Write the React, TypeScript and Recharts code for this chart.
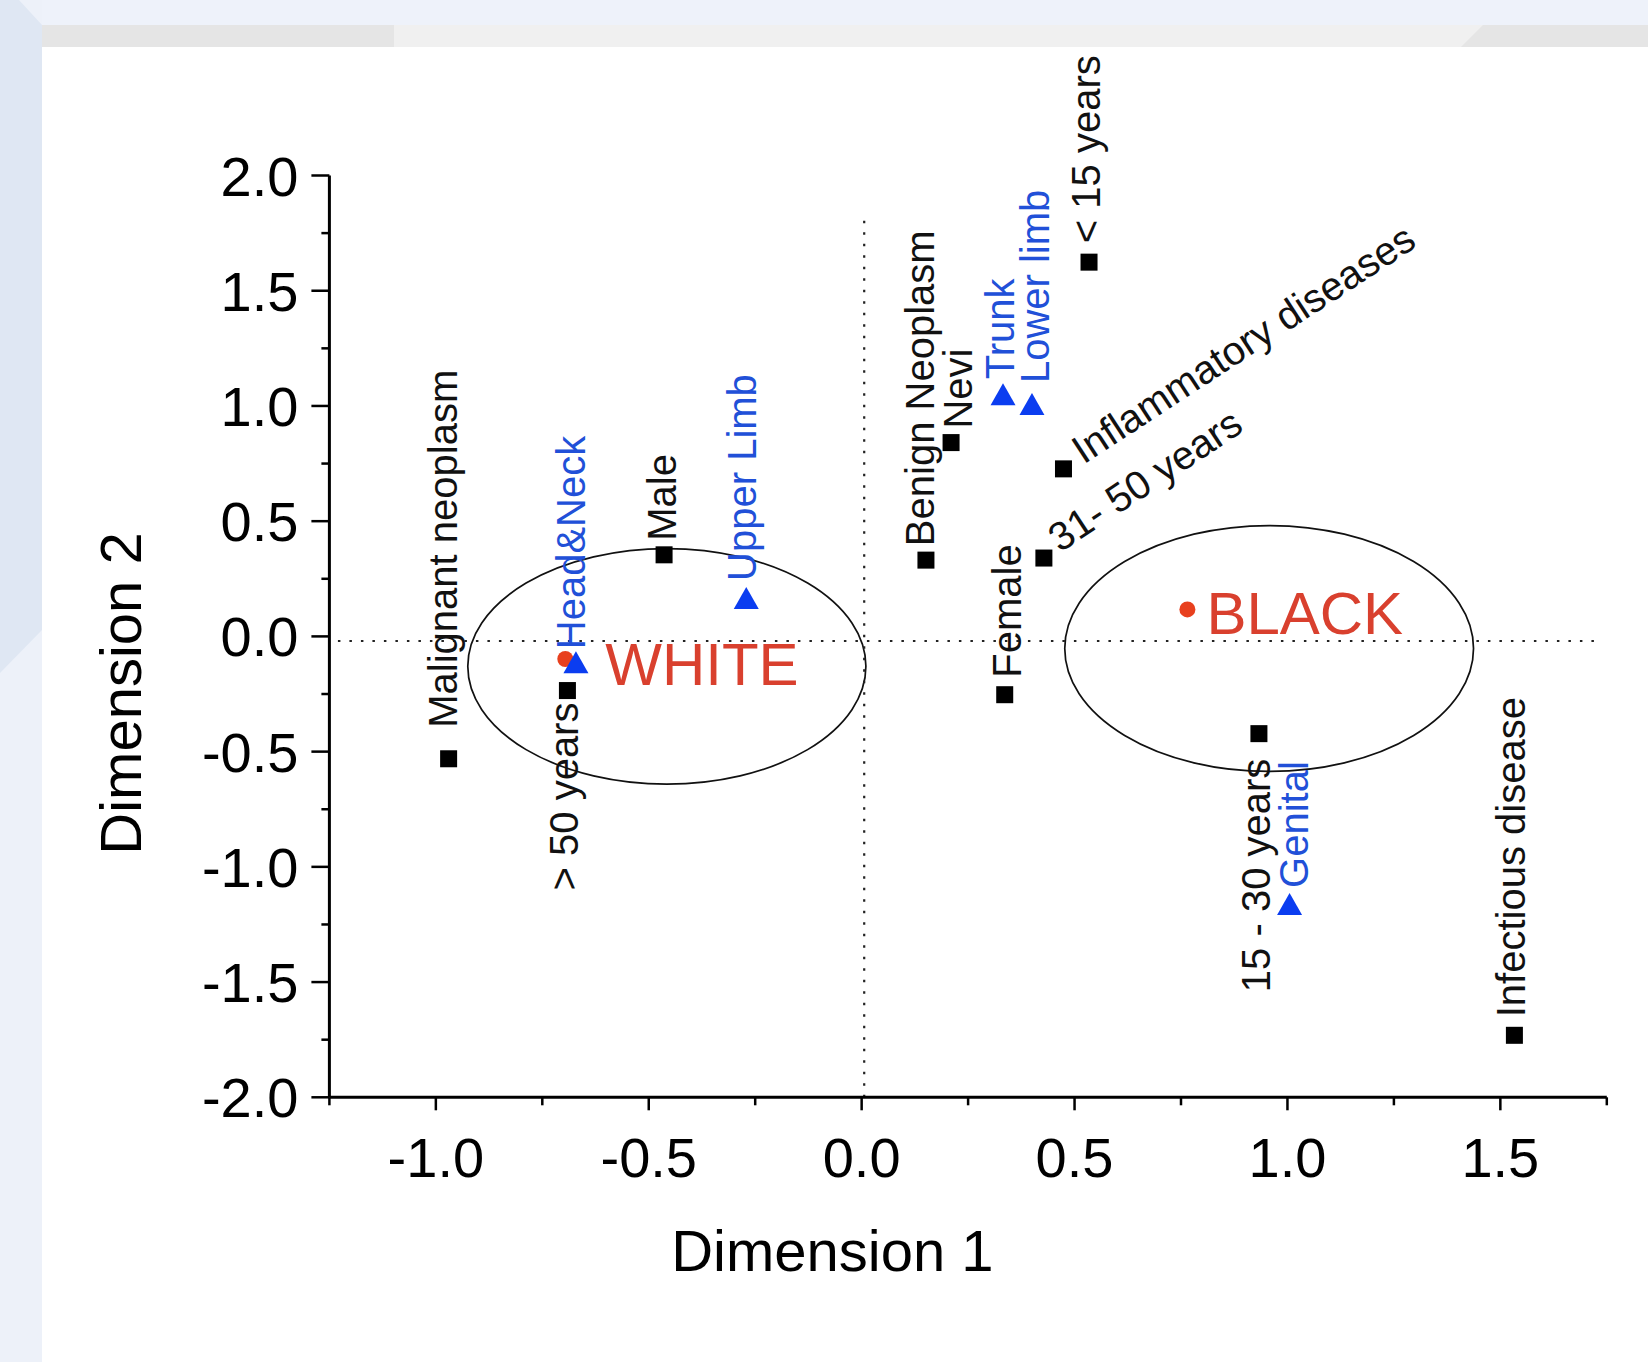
import React from 'react';
import { ScatterChart, Scatter, XAxis, YAxis, ReferenceLine, ReferenceArea } from 'recharts';

const FONT = '"Liberation Sans", Arial, Helvetica, sans-serif';

// black squares: diagnosis, sex and age group
const squareNames = [
  'Malignant neoplasm', '> 50 years', 'Male', 'Benign Neoplasm', 'Nevi', 'Female',
  '31- 50 years', 'Inflammatory diseases', '< 15 years', '15 - 30 years', 'Infectious disease',
];
const squareX = [-0.97, -0.691, -0.464, 0.151, 0.21, 0.336, 0.428, 0.474, 0.534, 0.933, 1.533];
const squareY = [-0.531, -0.235, 0.354, 0.331, 0.841, -0.253, 0.34, 0.727, 1.624, -0.422, -1.731];

// blue triangles: body site
const siteNames = ['Head&Neck', 'Upper Limb', 'Trunk', 'Lower limb', 'Genital'];
const siteX = [-0.671, -0.271, 0.332, 0.4, 1.005];
const siteY = [-0.112, 0.167, 1.051, 1.008, -1.161];

// red dots: race
const raceNames = ['WHITE', 'BLACK'];
const raceX = [-0.696, 0.765];
const raceY = [-0.098, 0.117];

// ellipses drawn round the two race groups (bounding boxes)
const ellipseX1 = [-0.925, 0.477];
const ellipseX2 = [0.01, 1.437];
const ellipseY1 = [0.381, 0.481];
const ellipseY2 = [-0.641, -0.586];

// dotted origin lines
const originX = 0.006;
const originY = -0.02;
const originTop = 1.84;
const originLeft = -1.23;
const originRight = 1.73;

const xTicks = [-1.25, -1, -0.75, -0.5, -0.25, 0, 0.25, 0.5, 0.75, 1, 1.25, 1.5, 1.75];
const xMajor = [-1, -0.5, 0, 0.5, 1, 1.5];
const yTicks = [-2, -1.75, -1.5, -1.25, -1, -0.75, -0.5, -0.25, 0, 0.25, 0.5, 0.75, 1, 1.25, 1.5, 1.75, 2];
const yMajor = [-2, -1.5, -1, -0.5, 0, 0.5, 1, 1.5, 2];

const zip = (names: string[], xs: number[], ys: number[]) =>
  names.map((name, i) => ({ name, x: xs[i], y: ys[i] }));

const squares = zip(squareNames, squareX, squareY);
const sites = zip(siteNames, siteX, siteY);
const races = zip(raceNames, raceX, raceY);

// where each label sits relative to its marker
type Place = { dx: number; dy: number; angle: number; anchor: 'start' | 'end' };
const place: Record<string, Place> = {
  'Malignant neoplasm': { dx: 8, dy: -31, angle: -90, anchor: 'start' },
  '> 50 years': { dx: 11, dy: 12, angle: -90, anchor: 'end' },
  Male: { dx: 12, dy: -14, angle: -90, anchor: 'start' },
  'Benign Neoplasm': { dx: 8, dy: -14, angle: -90, anchor: 'start' },
  Nevi: { dx: 21, dy: -14, angle: -90, anchor: 'start' },
  Female: { dx: 16, dy: -17, angle: -90, anchor: 'start' },
  '31- 50 years': { dx: 16, dy: -5, angle: -33.5, anchor: 'start' },
  'Inflammatory diseases': { dx: 20, dy: -4, angle: -33.2, anchor: 'start' },
  '< 15 years': { dx: 11, dy: -19, angle: -90, anchor: 'start' },
  '15 - 30 years': { dx: 11, dy: 25, angle: -90, anchor: 'end' },
  'Infectious disease': { dx: 11, dy: -18, angle: -90, anchor: 'start' },
  'Head&Neck': { dx: 9, dy: -13, angle: -90, anchor: 'start' },
  'Upper Limb': { dx: 10, dy: -17, angle: -90, anchor: 'start' },
  Trunk: { dx: 11, dy: -15, angle: -90, anchor: 'start' },
  'Lower limb': { dx: 17, dy: -21, angle: -90, anchor: 'start' },
  Genital: { dx: 18, dy: -16, angle: -90, anchor: 'start' },
  WHITE: { dx: 40, dy: 26, angle: 0, anchor: 'start' },
  BLACK: { dx: 19, dy: 25, angle: 0, anchor: 'start' },
};

const PointLabel = ({ cx, cy, name, color, size }: any) => {
  const p = place[name];
  const x = cx + p.dx;
  const y = cy + p.dy;
  return (
    <text
      x={x}
      y={y}
      textAnchor={p.anchor}
      fontSize={size}
      fontFamily={FONT}
      fill={color}
      transform={p.angle ? `rotate(${p.angle}, ${x}, ${y})` : undefined}
    >
      {name}
    </text>
  );
};

const SquareShape = (props: any) => {
  const { cx, cy, payload } = props;
  return (
    <g>
      <rect x={cx - 8.5} y={cy - 8.5} width={17} height={17} fill="#000" />
      <PointLabel cx={cx} cy={cy} name={payload.name} color="#111" size={40} />
    </g>
  );
};

const TriangleShape = (props: any) => {
  const { cx, cy, payload } = props;
  return (
    <g>
      <polygon
        points={`${cx},${cy - 11} ${cx + 12.5},${cy + 11} ${cx - 12.5},${cy + 11}`}
        fill="#0b3df0"
      />
      <PointLabel cx={cx} cy={cy} name={payload.name} color="#2150d8" size={40} />
    </g>
  );
};

const RaceShape = (props: any) => {
  const { cx, cy, payload } = props;
  return (
    <g>
      <circle cx={cx} cy={cy} r={8} fill="#e8401e" />
      <PointLabel cx={cx} cy={cy} name={payload.name} color="#d9402e" size={60} />
    </g>
  );
};

const EllipseShape = (props: any) => {
  const { x, y, width, height } = props;
  return (
    <ellipse
      cx={x + width / 2}
      cy={y + height / 2}
      rx={Math.abs(width) / 2}
      ry={Math.abs(height) / 2}
      fill="none"
      stroke="#111"
      strokeWidth={1.7}
    />
  );
};

const XTick = ({ x, y, payload }: any) => {
  const major = xMajor.includes(payload.value);
  return (
    <g>
      <line x1={x} x2={x} y1={y} y2={y + (major ? 13 : 8)} stroke="#000" strokeWidth={2.5} />
      {major && (
        <text x={x} y={y + 80} textAnchor="middle" fontSize={56} fontFamily={FONT} fill="#000">
          {payload.value.toFixed(1)}
        </text>
      )}
    </g>
  );
};

const YTick = ({ x, y, payload }: any) => {
  const major = yMajor.includes(payload.value);
  return (
    <g>
      <line x1={x - (major ? 18 : 8)} x2={x} y1={y} y2={y} stroke="#000" strokeWidth={2.5} />
      {major && (
        <text x={x - 31} y={y + 20} textAnchor="end" fontSize={56} fontFamily={FONT} fill="#000">
          {payload.value.toFixed(1)}
        </text>
      )}
    </g>
  );
};

const XTitle = ({ viewBox }: any) => (
  <text x={viewBox.x + 503} y={viewBox.y + 174} textAnchor="middle" fontSize={58} fontFamily={FONT} fill="#000">
    Dimension 1
  </text>
);

const YTitle = ({ viewBox }: any) => {
  const x = viewBox.x - 68;
  const y = viewBox.y + 518;
  return (
    <text x={x} y={y} textAnchor="middle" fontSize={58} fontFamily={FONT} fill="#000" transform={`rotate(-90, ${x}, ${y})`}>
      Dimension 2
    </text>
  );
};

export default function App() {
  return (
    <div style={{ position: 'absolute', left: 0, top: 0, width: 1648, height: 1362, background: '#fff', overflow: 'hidden' }}>
      {/* page chrome round the figure */}
      <div style={{ position: 'absolute', left: 0, top: 0, width: 1648, height: 25, background: '#eef2fa' }} />
      <div style={{ position: 'absolute', left: 0, top: 0, width: 42, height: 1362, background: '#edf1f9' }} />
      <div
        style={{
          position: 'absolute', left: 0, top: 0, width: 42, height: 673, background: '#dfe7f3',
          clipPath: 'polygon(0 0, 19px 0, 42px 25px, 42px 630px, 0 673px)',
        }}
      />
      <div style={{ position: 'absolute', left: 42, top: 25, width: 1606, height: 22, background: '#e5e5e5' }} />
      <div
        style={{
          position: 'absolute', left: 394, top: 25, width: 1089, height: 22, background: '#f0f0f0',
          clipPath: 'polygon(0 0, 1089px 0, 1067px 22px, 0 22px)',
        }}
      />
      <div style={{ position: 'absolute', left: 0, top: 0 }}>
        <ScatterChart
          width={1648}
          height={1362}
          margin={{ top: 175.5, right: 41.2, bottom: 164.7, left: 209.4 }}
        >
          <XAxis
            type="number"
            dataKey="x"
            domain={[-1.25, 1.75]}
            ticks={xTicks}
            interval={0}
            height={100}
            tickSize={0}
            tickMargin={0}
            tickLine={false}
            axisLine={{ stroke: '#000', strokeWidth: 3 }}
            tick={<XTick />}
            label={{ content: <XTitle /> }}
          />
          <YAxis
            type="number"
            dataKey="y"
            domain={[-2, 2]}
            ticks={yTicks}
            interval={0}
            width={120}
            tickSize={0}
            tickMargin={0}
            tickLine={false}
            axisLine={{ stroke: '#000', strokeWidth: 3 }}
            tick={<YTick />}
            label={{ content: <YTitle /> }}
          />
          <ReferenceLine
            segment={[{ x: originX, y: -2 }, { x: originX, y: originTop }]}
            stroke="#222"
            strokeWidth={2.2}
            strokeDasharray="2.5 9"
          />
          <ReferenceLine
            segment={[{ x: originLeft, y: originY }, { x: originRight, y: originY }]}
            stroke="#222"
            strokeWidth={2.2}
            strokeDasharray="2.5 9"
          />
          {raceNames.map((n, i) => (
            <ReferenceArea
              key={n}
              x1={ellipseX1[i]}
              x2={ellipseX2[i]}
              y1={ellipseY1[i]}
              y2={ellipseY2[i]}
              shape={EllipseShape}
            />
          ))}
          <Scatter data={races} shape={RaceShape} isAnimationActive={false} />
          <Scatter data={squares} shape={SquareShape} isAnimationActive={false} />
          <Scatter data={sites} shape={TriangleShape} isAnimationActive={false} />
        </ScatterChart>
      </div>
    </div>
  );
}
